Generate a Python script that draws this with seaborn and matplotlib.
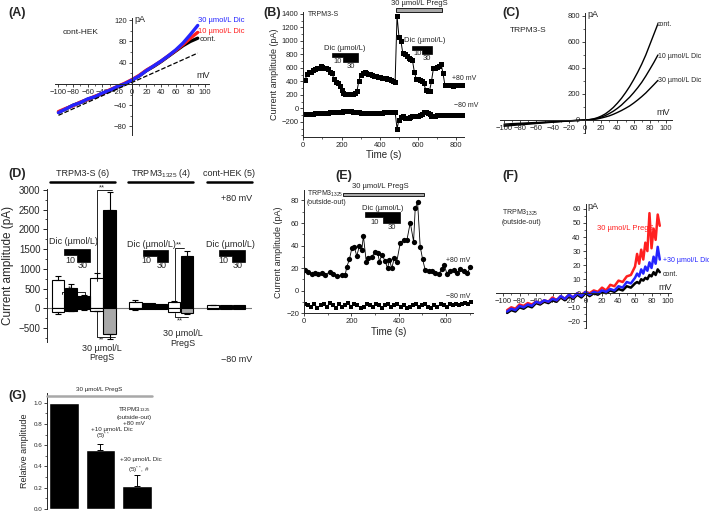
import matplotlib

matplotlib.use("Agg")
import matplotlib.pyplot as plt
import numpy as np
import pandas as pd
import seaborn as sns
from matplotlib.lines import Line2D
from matplotlib.patches import Polygon, Rectangle
from matplotlib.ticker import AutoMinorLocator, FormatStrFormatter

W, H = 709, 514

# ---------------- data ----------------
# (A) cont-HEK I-V
A_MV = [-100, -90, -80, -70, -60, -50, -40, -30, -20, -10, 0, 10, 20, 30, 40, 50, 60, 70, 80, 90]
A_CONT = [-53, -47, -40, -35, -29, -24, -18, -12, -6, 0, 7, 15, 25, 33, 42, 52, 62, 72, 80, 86]
A_DIC10 = [-52, -46, -41, -34, -29, -23, -18, -11, -5, 1, 8, 16, 26, 34, 43, 53, 63, 74, 86, 97]
A_DIC30 = [-54, -47, -40, -35, -28, -24, -17, -12, -5, 0, 7, 15, 25, 34, 43, 53, 64, 77, 93, 110]
A_LIN_MV = [-100, 90]
A_LIN_PA = [-59, 58]

# (B) TRPM3-S time course
B_TIME = list(range(10, 840, 10))
B_POS = [420, 510, 540, 545, 560, 580, 590, 600, 630, 615,
         595, 590, 575, 545, 530, 430, 390, 380, 330, 270,
         230, 210, 205, 205, 210, 215, 230, 250, 400, 500,
         530, 535, 525, 515, 505, 495, 485, 480, 470, 465,
         455, 450, 445, 435, 430, 425, 410, 395, 1370, 1060,
         1000, 820, 800, 770, 750, 735, 720, 545, 440, 430,
         420, 400, 370, 270, 255, 260, 400, 590, 600, 610,
         620, 660, 520, 350, 340, 340, 345, 335, 340, 345,
         340, 345, 350]
B_NEG = [-85, -80, -82, -78, -80, -76, -74, -72, -70, -68,
         -66, -64, -62, -60, -58, -56, -54, -52, -50, -48,
         -46, -45, -44, -45, -46, -48, -50, -55, -60, -65,
         -68, -70, -72, -72, -70, -70, -68, -66, -65, -63,
         -62, -60, -60, -58, -58, -56, -56, -58, -300, -170,
         -130, -120, -140, -150, -150, -135, -120, -110, -115, -110,
         -100, -90, -60, -50, -70, -90, -120, -115, -110, -105,
         -105, -100, -100, -98, -100, -96, -98, -100, -98, -96,
         -98, -100, -96]

# (C) TRPM3-S I-V
C_MV = [-100, -90, -80, -70, -60, -50, -40, -30, -20, -10,
        0, 5, 10, 15, 20, 25, 30, 35, 40, 45, 50, 55, 60, 65, 70, 75, 80, 85, 90]
C_CONT = [-48, -42, -37, -32, -27, -22, -17, -12, -8, -4,
          0, 3, 8, 17, 30, 47, 70, 97, 130, 167, 210, 257, 310, 367, 430, 500, 580, 660, 740]
C_DIC10 = [-40, -35, -31, -27, -23, -19, -15, -11, -7, -3,
           0, 2, 6, 13, 22, 34, 50, 68, 90, 115, 145, 175, 210, 248, 290, 338, 390, 443, 500]
C_DIC30 = [-32, -28, -25, -22, -19, -16, -13, -10, -6, -3,
           0, 1, 4, 8, 15, 23, 32, 44, 58, 73, 90, 108, 130, 154, 180, 208, 240, 272, 305]

# (D) summary bars, +80 mV (pos) and -80 mV (neg)
D_SLOT = [0, 1, 2, 3, 4, 6, 7, 8, 9, 10, 12, 13, 14]
D_POS = [710, 510, 300, 760, 2480, 170, 130, 120, 170, 1320, 85, 78, 78]
D_POS_ERR = [120, 100, 40, 130, 470, 30, 0, 0, 20, 140, 10, 0, 0]
D_NEG = [-95, -60, -30, -60, -660, -30, -20, -20, -100, -130, -10, -10, -10]
D_NEG_ERR = [40, 15, 10, 15, 110, 10, 0, 0, 0, 20, 0, 0, 0]
D_POS_FILL = ["w", "k", "k", "w", "k", "w", "k", "k", "w", "k", "w", "k", "k"]
D_NEG_FILL = ["w", "k", "k", "w", "g", "w", "k", "k", "w", "g", "w", "k", "k"]
D_GROUPS = ["TRPM3-S (6)", "TRPM3$_{1325}$ (4)", "cont-HEK (5)"]

# (E) TRPM3_1325 outside-out time course
E_T_POS = [4, 18, 32, 47, 61, 75, 89, 110, 124, 138,
           160, 174, 181, 192, 202, 212, 223, 234, 244, 251,
           263, 272, 287, 301, 311, 319, 329, 343, 353, 361,
           371, 381, 392, 407, 421, 435, 449, 463, 470, 480,
           491, 501, 512, 527, 541, 555, 569, 583, 593, 604,
           618, 633, 647, 661, 675, 689, 703]
E_POS = [18.4, 16.9, 14.8, 16, 14.5, 15.4, 13.9, 16.9, 14.5, 13,
         13.9, 13.9, 21.3, 27.9, 37.6, 39.1, 30.8, 39.7, 36.1, 48.6,
         25.8, 29.3, 30.2, 34.7, 33.8, 25.8, 31.7, 26.4, 19.9, 27.3,
         19.9, 28.7, 25.8, 42.7, 45, 45, 60.4, 43.6, 73.2, 78.2,
         39.1, 28.1, 18.4, 17.8, 17.8, 16, 14.8, 19, 22.8, 14.8,
         17.8, 18.4, 16, 19, 17.8, 15.4, 20.7]
E_T_NEG = list(range(5, 710, 13))
E_NEG = [-12, -13, -14, -12, -15, -13, -12, -14, -11, -13,
         -15, -12, -14, -13, -11, -14, -12, -13, -15, -14,
         -12, -13, -14, -12, -13, -15, -13, -12, -14, -13,
         -12, -14, -13, -15, -14, -13, -12, -14, -13, -12,
         -14, -15, -13, -14, -12, -13, -14, -12, -13, -12,
         -13, -12, -11, -12, -10]

# (F) TRPM3_1325 outside-out I-V
F_MV = [-95, -90, -85, -80, -75, -70, -65, -60, -55, -50, -45, -40, -35, -30, -25, -20,
        -15, -10, -5, 0, 5, 10, 15, 20, 25, 30, 35, 40, 45, 50, 55, 60,
        62.5, 65, 67.5, 70, 72.5, 75, 77.5, 80, 82.5, 85, 87.5, 90]
F_PREGS = [-12, -10, -11, -8, -9, -7, -8, -6, -7, -5, -6, -3, -5, -2, -4, -1,
           -3, 0, -1, 1, 0, 2, 1, 4, 2, 6, 5, 9, 8, 12, 13, 19,
           28, 21, 31, 24, 36, 30, 57, 32, 46, 38, 56, 48]
F_DIC30 = [-13, -11, -12, -9, -10, -8, -9, -6, -7, -5, -6, -4, -5, -2, -4, -1,
           -3, 0, -2, 1, -1, 1, 0, 2, 1, 3, 2, 5, 4, 8, 7, 11,
           14, 12, 17, 14, 19, 16, 22, 18, 26, 21, 33, 24]
F_CONT = [-14, -12, -13, -10, -11, -9, -10, -7, -8, -6, -7, -5, -6, -3, -5, -2,
          -4, -1, -3, 0, -2, 0, -1, 1, 0, 2, 1, 3, 2, 5, 4, 7,
          8, 7, 10, 9, 11, 10, 13, 12, 15, 13, 17, 15]

# (G) relative amplitude
G_LABELS = ["PregS", "+10 Dic", "+30 Dic"]
G_VALS = [1.0, 0.55, 0.22]
G_ERR = [0.0, 0.06, 0.10]

RED = "#ff1f1f"
BLUE = "#2424ff"
GRAY = "#a8a8a8"

# ---------------- style ----------------
sns.set_theme(style="ticks")
plt.rcParams["font.family"] = ["Liberation Sans", "DejaVu Sans"]
plt.rcParams["mathtext.default"] = "regular"
plt.rcParams["axes.linewidth"] = 0.7

fig = plt.figure(figsize=(W / 100, H / 100), dpi=100)


def box(left, top, right, bottom):
    return [left / W, 1 - bottom / H, (right - left) / W, (bottom - top) / H]


def ftext(x, y, s, size=6, ha="center", va="center", **kw):
    fig.text(x / W, 1 - y / H, s, fontsize=size, ha=ha, va=va, **kw)


def fline(xs, ys, **kw):
    kw.setdefault("color", "black")
    kw.setdefault("lw", 0.7)
    fig.add_artist(Line2D([x / W for x in xs], [1 - y / H for y in ys], **kw))


def frect(x0, y0, x1, y1, fc, ec="black", lw=0.6):
    fig.add_artist(Rectangle((x0 / W, 1 - y1 / H), (x1 - x0) / W, (y1 - y0) / H,
                             facecolor=fc, edgecolor=ec, lw=lw, transform=fig.transFigure))


def dic_step(x0, xm, x1, ytop, yb10, yb30, label_x, label_y, t10, t30, size=5.5):
    pts = [(x0, ytop), (x1, ytop), (x1, yb30), (xm, yb30), (xm, yb10), (x0, yb10)]
    fig.add_artist(Polygon([(x / W, 1 - y / H) for x, y in pts], closed=True,
                           facecolor="black", edgecolor="black", lw=0.5,
                           transform=fig.transFigure))
    ftext(label_x, label_y, "Dic (µmol/L)", size=size)
    ftext(t10[0], t10[1], "10", size=size)
    ftext(t30[0], t30[1], "30", size=size)


def iv_style(ax, xlim, ylim, xticks, yticks, size=5.5):
    sns.despine(ax=ax)
    ax.spines["left"].set_position(("data", 0))
    ax.spines["bottom"].set_position(("data", 0))
    ax.set_xlim(*xlim)
    ax.set_ylim(*ylim)
    ax.set_xticks(xticks)
    ax.set_yticks(yticks)
    ax.xaxis.set_minor_locator(AutoMinorLocator(2))
    ax.yaxis.set_minor_locator(AutoMinorLocator(2))
    ax.tick_params(which="major", labelsize=size, length=2.5, width=0.6, pad=1)
    ax.tick_params(which="minor", length=1.5, width=0.5)
    ax.set_xlabel("")
    ax.set_ylabel("")
    ax.patch.set_alpha(0)


def iv_frame(mv, series):
    rows = []
    for name, vals in series.items():
        rows.append(pd.DataFrame({"mV": mv, "pA": vals, "cond": name}))
    return pd.concat(rows, ignore_index=True)


# ---------------- (A) ----------------
axA = fig.add_axes(box(54.8, 18, 208.7, 135))
dfA = iv_frame(A_MV, {"cont": A_CONT, "dic10": A_DIC10, "dic30": A_DIC30})
sns.lineplot(data=dfA, x="mV", y="pA", hue="cond", hue_order=["cont", "dic10", "dic30"],
             palette={"cont": "black", "dic10": RED, "dic30": BLUE}, lw=2.4,
             sort=False, estimator=None, legend=False, ax=axA)
sns.lineplot(x=A_LIN_MV, y=A_LIN_PA, color="black", lw=0.9, linestyle="--", ax=axA)
iv_style(axA, (-105, 105), (-96, 124), range(-100, 101, 20), [-80, -40, 40, 80, 120])
axA.text(3, 121, "pA", fontsize=6.5, ha="left", va="center")
axA.text(88, 7, "mV", fontsize=6.5, ha="left", va="bottom")
ftext(81, 32, "cont-HEK", size=6)
ftext(198, 21, "30 µmol/L Dic", size=5.5, ha="left", color=BLUE)
ftext(198, 31.5, "10 µmol/L Dic", size=5.5, ha="left", color=RED)
ftext(200, 39.5, "cont.", size=5.5, ha="left")

# ---------------- (B) ----------------
axB = fig.add_axes(box(303.3, 12.4, 464, 136.7))
sns.lineplot(x=B_TIME, y=B_POS, color="black", lw=0.7, marker="s", markersize=3.6,
             markeredgewidth=0, ax=axB)
sns.lineplot(x=B_TIME, y=B_NEG, color="black", lw=0.7, marker="s", markersize=3.6,
             markeredgewidth=0, ax=axB)
sns.despine(ax=axB)
axB.set_xlim(0, 840)
axB.set_ylim(-420, 1420)
axB.set_xticks(range(0, 801, 200))
axB.set_yticks(range(-200, 1401, 200))
axB.xaxis.set_minor_locator(AutoMinorLocator(2))
axB.yaxis.set_minor_locator(AutoMinorLocator(2))
axB.tick_params(which="major", labelsize=5.5, length=2.5, width=0.6, pad=1)
axB.tick_params(which="minor", length=1.5, width=0.5)
axB.set_xlabel("Time (s)", fontsize=7, labelpad=1)
axB.set_ylabel("Current amplitude (pA)", fontsize=6.5, labelpad=2)
axB.patch.set_alpha(0)
ftext(308, 14, "TRPM3-S", size=5, ha="left")
ftext(452, 79, "+80 mV", size=5, ha="left")
ftext(454, 106, "\u221280 mV", size=5, ha="left")
frect(396, 8.3, 441.7, 11.7, GRAY)
ftext(419, 3.5, "30 µmol/L PregS", size=5.5)
dic_step(331.7, 343.3, 358.3, 53.3, 57.3, 61.7, 345, 48, (337.7, 61.7), (351, 66.7))
dic_step(412.3, 422.3, 431.7, 46, 50, 54, 425, 40.7, (417.7, 53.3), (426.7, 58.3))

# ---------------- (C) ----------------
axC = fig.add_axes(box(500, 12.75, 671.7, 133))
dfC = iv_frame(C_MV, {"cont": C_CONT, "dic10": C_DIC10, "dic30": C_DIC30})
sns.lineplot(data=dfC, x="mV", y="pA", hue="cond", hue_order=["cont", "dic10", "dic30"],
             palette={"cont": "black", "dic10": "black", "dic30": "black"}, lw=1.0,
             sort=False, estimator=None, legend=False, ax=axC)
iv_style(axC, (-105, 107), (-100, 825), range(-100, 101, 20), range(0, 801, 200))
axC.text(3, 815, "pA", fontsize=6.5, ha="left", va="center")
axC.text(88, 20, "mV", fontsize=6.5, ha="left", va="bottom")
ftext(510, 31, "TRPM3-S", size=6, ha="left")
ftext(657, 24, "cont.", size=5, ha="left")
ftext(658, 56, "10 µmol/L Dic", size=5, ha="left")
ftext(658, 80, "30 µmol/L Dic", size=5, ha="left")

# ---------------- (D) ----------------
axD = fig.add_axes(box(46.7, 188.7, 252, 341.8))
fill = {"w": "white", "k": "black", "g": GRAY}
dfD = pd.concat([
    pd.DataFrame({"slot": D_SLOT, "pA": D_POS, "fill": D_POS_FILL}),
    pd.DataFrame({"slot": D_SLOT, "pA": D_NEG, "fill": D_NEG_FILL}),
], ignore_index=True)
for part in (dfD.iloc[:len(D_SLOT)], dfD.iloc[len(D_SLOT):]):
    sns.barplot(data=part, x="slot", y="pA", hue="fill", palette=fill, native_scale=True,
                dodge=False, width=0.95, edgecolor="black", linewidth=0.8,
                errorbar=None, legend=False, ax=axD)
for vals, errs, sign in ((D_POS, D_POS_ERR, 1), (D_NEG, D_NEG_ERR, -1)):
    xs = [s for s, e in zip(D_SLOT, errs) if e > 0]
    ys = [v for v, e in zip(vals, errs) if e > 0]
    es = [e for e in errs if e > 0]
    lo = [0] * len(es) if sign > 0 else es
    hi = es if sign > 0 else [0] * len(es)
    axD.errorbar(xs, ys, yerr=[lo, hi], fmt="none", ecolor="black", elinewidth=0.8,
                 capsize=2.5, capthick=0.8)
axD.axhline(0, color="#7a7a7a", lw=0.8, zorder=0)
axD.set_xlim(-0.85, 15)
axD.set_ylim(-850, 3030)
axD.set_yticks(range(-500, 3001, 500))
axD.yaxis.set_minor_locator(AutoMinorLocator(2))
axD.set_xticks([])
sns.despine(ax=axD, bottom=True)
axD.tick_params(which="major", labelsize=7, length=3, width=0.7, pad=1.5)
axD.tick_params(which="minor", length=1.8, width=0.6)
axD.set_xlabel("")
axD.set_ylabel("Current amplitude (pA)", fontsize=8.5, labelpad=3)
axD.patch.set_alpha(0)
for (x0, x1), name in zip(((50, 115), (128.3, 193.3), (206.7, 251.7)), D_GROUPS):
    fline([x0, x1], [181.7, 181.7], lw=1.8)
    ftext((x0 + x1) / 2, 174, name, size=6.5)
ftext(236.7, 198.3, "+80 mV", size=6.5)
ftext(236.7, 360, "\u221280 mV", size=6.5)
dic_step(64.3, 77.3, 90, 249, 255, 262.3, 73, 241.7, (70, 260.7), (82.7, 266), size=6.5)
dic_step(143.3, 156.7, 168.3, 250, 256, 261.7, 151, 244.3, (146.7, 260.7), (161.7, 266), size=6.5)
dic_step(219.3, 232.3, 245, 250, 256, 261.7, 230, 244.3, (223, 260.7), (238, 266), size=6.5)
# significance brackets
fline([61.7, 61.7, 85, 85], [294, 291.7, 291.7, 298.3], lw=0.6)
ftext(70, 288.5, "*", size=6)
fline([96.7, 96.7, 112], [281, 190, 190], lw=0.6)
ftext(101.7, 187.5, "**", size=5.5)
fline([96.7, 96.7, 115], [311, 336.5, 336.5], lw=0.6)
ftext(101.7, 339.5, "**", size=5)
ftext(101.7, 348.5, "30 µmol/L", size=6.5)
ftext(101.7, 357, "PregS", size=6.5)
fline([175, 175, 184], [302, 248.3, 248.3], lw=0.6)
ftext(179, 245, "**", size=5.5)
fline([175, 175, 188.3], [313, 317.3, 317.3], lw=0.6)
ftext(180, 320.7, "**", size=5.5)
ftext(183, 334, "30 µmol/L", size=6.5)
ftext(183, 344, "PregS", size=6.5)

# ---------------- (E) ----------------
axE = fig.add_axes(box(304, 190.3, 472.5, 313.3))
sns.lineplot(x=E_T_POS, y=E_POS, color="black", lw=0.6, marker="o", markersize=3.8,
             markeredgewidth=0, ax=axE)
sns.lineplot(x=E_T_NEG, y=E_NEG, color="black", lw=0.6, marker="s", markersize=3.4,
             markeredgewidth=0, ax=axE)
sns.despine(ax=axE)
axE.set_xlim(0, 712)
axE.set_ylim(-20, 89)
axE.set_xticks(range(0, 601, 200))
axE.set_yticks(range(-20, 81, 20))
axE.xaxis.set_minor_locator(AutoMinorLocator(2))
axE.yaxis.set_minor_locator(AutoMinorLocator(2))
axE.tick_params(which="major", labelsize=5.5, length=2.5, width=0.6, pad=1)
axE.tick_params(which="minor", length=1.5, width=0.5)
axE.set_xlabel("Time (s)", fontsize=7, labelpad=1)
axE.set_ylabel("Current amplitude (pA)", fontsize=6.5, labelpad=2)
axE.patch.set_alpha(0)
ftext(307, 194, "TRPM3$_{1325}$", size=5, ha="left")
ftext(307, 203, "(outside-out)", size=5, ha="left")
frect(342.7, 192.7, 424, 196, GRAY)
ftext(380, 187, "30 µmol/L PregS", size=5.5)
dic_step(365, 383.3, 400, 212.3, 217.3, 222.7, 383, 208, (375, 222.7), (391.7, 227.3))
ftext(458, 260, "+80 mV", size=5)
ftext(458, 297, "\u221280 mV", size=5)

# ---------------- (F) ----------------
axF = fig.add_axes(box(496.4, 204, 670.5, 328.4))
dfF = iv_frame(F_MV, {"cont": F_CONT, "pregs": F_PREGS, "dic30": F_DIC30})
sns.lineplot(data=dfF, x="mV", y="pA", hue="cond", hue_order=["cont", "pregs", "dic30"],
             palette={"cont": "black", "pregs": RED, "dic30": BLUE}, lw=1.8,
             sort=False, estimator=None, legend=False, ax=axF)
iv_style(axF, (-108, 103), (-25, 63.5), range(-100, 101, 20), range(-20, 61, 10))
axF.text(2, 62, "pA", fontsize=6.5, ha="left", va="center")
axF.text(88, 1, "mV", fontsize=6.5, ha="left", va="bottom")
ftext(502, 213, "TRPM3$_{1325}$", size=5, ha="left")
ftext(502, 223, "(outside-out)", size=5, ha="left")
ftext(597, 228, "30 µmol/L PregS", size=5.5, ha="left", color=RED)
ftext(663, 261, "+30 µmol/L Dic", size=5, ha="left", color=BLUE)
ftext(663, 275, "cont.", size=5, ha="left")

# ---------------- (G) ----------------
axG = fig.add_axes(box(47, 393, 162.5, 509))
sns.barplot(x=G_LABELS, y=G_VALS, color="black", width=0.8, errorbar=None,
            saturation=1, ax=axG)
axG.errorbar([1, 2], G_VALS[1:], yerr=[[0, 0], G_ERR[1:]], fmt="none", ecolor="black",
             elinewidth=0.7, capsize=2.5, capthick=0.7)
axG.set_xlim(-0.466, 2.7)
axG.set_ylim(0, 1.09)
axG.set_yticks(np.round(np.arange(0, 1.01, 0.2), 1))
axG.yaxis.set_major_formatter(FormatStrFormatter("%.1f"))
axG.yaxis.set_minor_locator(AutoMinorLocator(2))
axG.set_xticks([])
sns.despine(ax=axG, bottom=True)
axG.tick_params(which="major", labelsize=4.5, length=2.5, width=0.6, pad=1)
axG.tick_params(which="minor", length=1.5, width=0.5)
axG.set_xlabel("")
axG.set_ylabel("Relative amplitude", fontsize=6.5, labelpad=3)
axG.patch.set_alpha(0)
fline([47, 152], [396, 396], color=GRAY, lw=1.8)
ftext(99, 390, "30 µmol/L PregS", size=4.5)
ftext(134, 410, "TRPM3$_{1325}$", size=4.5)
ftext(134, 417, "(outside-out)", size=4.5)
ftext(134, 423.5, "+80 mV", size=4.5)
ftext(112, 429.5, "+10 µmol/L Dic", size=4.5)
ftext(103, 436, "(5)$^{**}$", size=4.5)
ftext(141, 459, "+30 µmol/L Dic", size=4.5)
ftext(139, 470, "(5)$^{**}$, #", size=4.5)

# panel letters
for x, y, s in ((8, 13, "(A)"), (263, 13, "(B)"), (502, 13, "(C)"), (8, 174, "(D)"),
                (335, 176, "(E)"), (502, 176, "(F)"), (8, 396, "(G)")):
    ftext(x, y, s, size=9, ha="left", weight="bold")

fig.savefig("out.png", dpi=100)
